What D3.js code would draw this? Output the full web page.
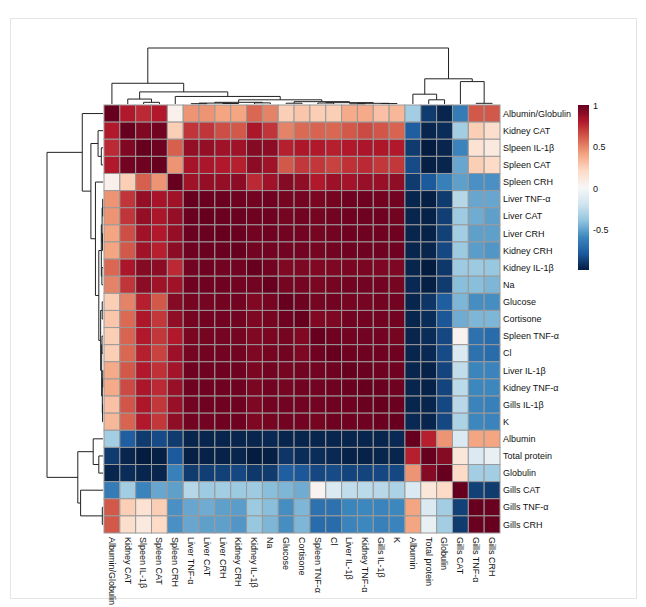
<!DOCTYPE html>
<meta charset="utf-8">
<style>
  body { margin: 0; background: #fff; }
  text { font-family: "Liberation Sans", Arial, sans-serif; fill: #111; }
</style>
<svg width="646" height="607"></svg>
<script src="https://cdn.jsdelivr.net/npm/d3@7"></script>
<script>

    // variable names, in clustered order (same for rows and columns)
    var labels = ["Albumin/Globulin", "Kidney CAT", "Slpeen IL-1β", "Spleen CAT", "Spleen CRH",
        "Liver TNF-α", "Liver CAT", "Liver CRH", "Kidney CRH", "Kidney IL-1β", "Na", "Glucose",
        "Cortisone", "Spleen TNF-α", "Cl", "Liver IL-1β", "Kidney TNF-α", "Gills IL-1β", "K",
        "Albumin", "Total protein", "Globulin", "Gills CAT", "Gills TNF-α", "Gills CRH"];

    // lower triangle of the correlation matrix (row i holds columns 0..i)
    var corrLower = [
        [1],
        [0.80, 1],
        [0.75, 0.93, 1],
        [0.80, 0.97, 0.98, 1],
        [0.05, 0.25, 0.60, 0.45, 1],
        [0.45, 0.72, 0.88, 0.83, 0.85, 1],
        [0.45, 0.72, 0.88, 0.82, 0.88, 0.99, 1],
        [0.40, 0.65, 0.85, 0.80, 0.88, 0.99, 0.99, 1],
        [0.40, 0.62, 0.85, 0.78, 0.90, 0.98, 0.99, 0.99, 1],
        [0.58, 0.82, 0.92, 0.90, 0.75, 0.97, 0.98, 0.97, 0.97, 1],
        [0.50, 0.72, 0.90, 0.85, 0.85, 0.98, 0.98, 0.98, 0.97, 0.97, 1],
        [0.25, 0.50, 0.78, 0.62, 0.92, 0.96, 0.96, 0.97, 0.97, 0.93, 0.96, 1],
        [0.28, 0.57, 0.81, 0.71, 0.89, 0.96, 0.97, 0.97, 0.97, 0.94, 0.96, 0.98, 1],
        [0.25, 0.59, 0.80, 0.71, 0.80, 0.95, 0.96, 0.96, 0.96, 0.93, 0.95, 0.96, 0.93, 1],
        [0.25, 0.58, 0.78, 0.68, 0.86, 0.96, 0.97, 0.97, 0.97, 0.94, 0.96, 0.97, 0.94, 0.98, 1],
        [0.38, 0.62, 0.80, 0.73, 0.84, 0.98, 0.98, 0.98, 0.98, 0.95, 0.97, 0.96, 0.97, 0.97, 0.98, 1],
        [0.38, 0.66, 0.82, 0.75, 0.87, 0.98, 0.98, 0.98, 0.98, 0.95, 0.97, 0.96, 0.97, 0.97, 0.98, 0.99, 1],
        [0.30, 0.63, 0.81, 0.71, 0.87, 0.97, 0.98, 0.98, 0.98, 0.94, 0.97, 0.97, 0.97, 0.97, 0.98, 0.98, 0.99, 1],
        [0.33, 0.59, 0.80, 0.71, 0.89, 0.97, 0.97, 0.98, 0.98, 0.94, 0.96, 0.97, 0.97, 0.96, 0.98, 0.98, 0.98, 0.99, 1],
        [-0.35, -0.78, -0.90, -0.85, -0.90, -0.97, -0.97, -0.97, -0.97, -0.97, -0.96, -0.97, -0.97, -0.97, -0.97, -0.97, -0.97, -0.97, -0.96, 1],
        [-0.90, -0.97, -1.0, -0.99, -0.80, -0.99, -0.98, -0.98, -0.97, -1.0, -0.99, -0.92, -0.95, -0.95, -0.96, -0.98, -0.98, -0.97, -0.97, 0.78, 1],
        [-0.97, -0.95, -0.97, -0.97, -0.63, -0.90, -0.89, -0.88, -0.86, -0.91, -0.90, -0.78, -0.81, -0.86, -0.85, -0.87, -0.87, -0.86, -0.86, 0.45, 0.92, 1],
        [-0.65, -0.35, -0.62, -0.50, -0.52, -0.29, -0.36, -0.35, -0.37, -0.36, -0.42, -0.45, -0.48, 0.03, -0.15, -0.25, -0.27, -0.28, -0.32, -0.15, 0.12, 0.20, 1],
        [0.62, 0.25, 0.15, 0.25, -0.57, -0.50, -0.48, -0.52, -0.53, -0.37, -0.42, -0.58, -0.45, -0.70, -0.70, -0.61, -0.60, -0.62, -0.60, 0.40, -0.15, -0.35, -0.88, 1],
        [0.62, 0.18, 0.10, 0.20, -0.57, -0.50, -0.52, -0.52, -0.55, -0.38, -0.45, -0.58, -0.45, -0.72, -0.72, -0.62, -0.60, -0.63, -0.62, 0.40, -0.08, -0.35, -0.90, 0.99, 1]
    ];

    // hierarchical clustering: [left, right, height]; leaves are label indices
    // heights are relative to the root merge
    var blockLeft = [[[5, 6, 0.006], [7, 8, 0.009], 0.016], [9, 10, 0.02], 0.03];
    var blockRight = [[11, 12, 0.014], [[13, 14, 0.018], [[15, 16, 0.005], [17, 18, 0.008], 0.012], 0.024], 0.042];
    var tree = [
        [0, [[1, [2, 3, 0.03], 0.088], [4, [blockLeft, blockRight, 0.075], 0.135], 0.216], 0.37],
        [[19, [20, 21, 0.075], 0.175], [22, [23, 24, 0.012], 0.4], 0.45],
        1.0
    ];

    var legendTicks = [1, 0.5, 0, -0.5];

    // diverging palette, dark blue -> white -> dark red
    var paletteStops = [-1, -0.8, -0.6, -0.4, -0.2, 0, 0.2, 0.4, 0.6, 0.8, 1];
    var paletteColors = ["#041c40", "#1c5a9e", "#3d87bf", "#92c5de", "#d1e5f0", "#f7f7f7",
        "#fddbc7", "#f4a582", "#d6604d", "#b2182b", "#67001f"];

    var svg = d3.select("svg");
    var n = labels.length;

    var grid = {left: 104, top: 105, width: 396, height: 428};

    var x = d3.scaleBand().domain(d3.range(n)).range([grid.left, grid.left + grid.width]);
    var y = d3.scaleBand().domain(d3.range(n)).range([grid.top, grid.top + grid.height]);

    var color = d3.scaleLinear().domain(paletteStops).range(paletteColors).interpolate(d3.interpolateRgb);

    function corr(i, j) {
        return i >= j ? corrLower[i][j] : corrLower[j][i];
    }

    var cells = [];
    for (let i = 0; i < n; i++) {
        for (let j = 0; j < n; j++) {
            cells.push({row: i, col: j, v: corr(i, j)});
        }
    }

    // light frame round the figure
    svg.append("rect")
        .attr("x", 10.5).attr("y", 18.5)
        .attr("width", 626).attr("height", 580)
        .attr("fill", "none")
        .attr("stroke", "#e4e4e4");

    svg.append("g").selectAll("rect")
        .data(cells)
        .enter().append("rect")
        .attr("x", d => x(d.col))
        .attr("y", d => y(d.row))
        .attr("width", x.bandwidth())
        .attr("height", y.bandwidth())
        .attr("fill", d => color(d.v))
        .attr("stroke", "#9a9a9a")
        .attr("stroke-width", 1);

    // row labels
    svg.append("g").selectAll("text")
        .data(labels)
        .enter().append("text")
        .attr("x", grid.left + grid.width + 3)
        .attr("y", (d, i) => y(i) + y.bandwidth() / 2)
        .attr("dy", "0.35em")
        .style("font-size", "9px")
        .text(d => d);

    // column labels, read top to bottom
    svg.append("g").selectAll("text")
        .data(labels)
        .enter().append("text")
        .attr("transform", (d, i) => "translate(" + (x(i) + x.bandwidth() / 2) + "," + (grid.top + grid.height + 4) + ") rotate(90)")
        .attr("dy", "0.35em")
        .style("font-size", "9px")
        .text(d => d);

    // dendrograms
    function layout(node, pos) {
        if (typeof node === "number") return {x: pos(node), h: 0};
        var a = layout(node[0], pos), b = layout(node[1], pos);
        return {x: (a.x + b.x) / 2, h: node[2], kids: [a, b]};
    }

    function segments(nd, out) {
        if (!nd.kids) return out;
        var a = nd.kids[0], b = nd.kids[1];
        out.push([a.x, nd.h, b.x, nd.h]);
        out.push([a.x, nd.h, a.x, a.h]);
        out.push([b.x, nd.h, b.x, b.h]);
        segments(a, out);
        segments(b, out);
        return out;
    }

    var colTree = layout(tree, i => x(i) + x.bandwidth() / 2);
    var rowTree = layout(tree, i => y(i) + y.bandwidth() / 2);

    var topH = d3.scaleLinear().domain([0, 1]).range([grid.top - 1, 48]);
    var leftH = d3.scaleLinear().domain([0, 1]).range([grid.left - 1, 47]);

    svg.append("g").selectAll("line")
        .data(segments(colTree, []))
        .enter().append("line")
        .attr("x1", d => d[0]).attr("y1", d => topH(d[1]))
        .attr("x2", d => d[2]).attr("y2", d => topH(d[3]))
        .attr("stroke", "#222")
        .attr("stroke-width", 1);

    svg.append("g").selectAll("line")
        .data(segments(rowTree, []))
        .enter().append("line")
        .attr("y1", d => d[0]).attr("x1", d => leftH(d[1]))
        .attr("y2", d => d[2]).attr("x2", d => leftH(d[3]))
        .attr("stroke", "#222")
        .attr("stroke-width", 1);

    // colour legend
    var legendY = d3.scaleLinear().domain([-1, 1]).range([270, 105]);
    var defs = svg.append("defs");
    var grad = defs.append("linearGradient")
        .attr("id", "legendGrad")
        .attr("x1", 0).attr("y1", 1).attr("x2", 0).attr("y2", 0);
    grad.selectAll("stop")
        .data(d3.range(0, 1.0001, 0.05))
        .enter().append("stop")
        .attr("offset", d => d)
        .attr("stop-color", d => color(-1 + 2 * d));

    svg.append("rect")
        .attr("x", 578).attr("y", legendY(1))
        .attr("width", 11).attr("height", legendY(-1) - legendY(1))
        .attr("fill", "url(#legendGrad)");

    svg.append("g").selectAll("text")
        .data(legendTicks)
        .enter().append("text")
        .attr("x", 593)
        .attr("y", d => legendY(d) + 1)
        .attr("dy", "0.35em")
        .style("font-size", "9px")
        .text(d => String(d));
</script>
